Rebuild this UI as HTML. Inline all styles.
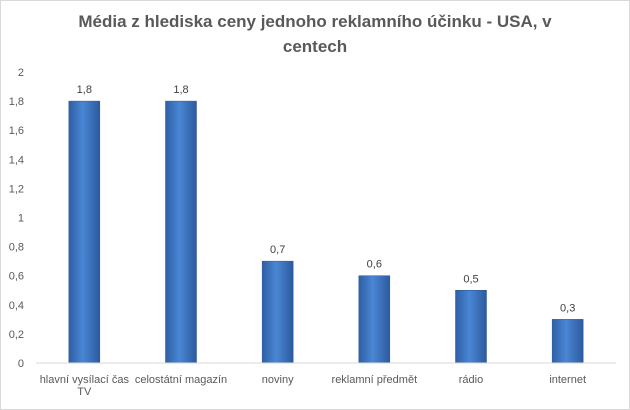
<!DOCTYPE html>
<html><head><meta charset="utf-8"><style>
body{margin:0;background:#fff}
svg{display:block;font-family:"Liberation Sans",sans-serif}
</style></head><body>
<svg width="630" height="410">
<defs>
<linearGradient id="bg" x1="0" x2="1" y1="0" y2="0">
<stop offset="0" stop-color="#2f5fa6"/><stop offset="0.45" stop-color="#4a86d4"/><stop offset="1" stop-color="#2c5a9e"/>
</linearGradient>
</defs>
<rect x="0.5" y="0.5" width="629" height="409" fill="#fff" stroke="#d9d9d9"/>
<text x="315" y="27" text-anchor="middle" font-size="17" font-weight="bold" fill="#595959">Média z hlediska ceny jednoho reklamního účinku - USA, v</text>
<text x="315" y="52" text-anchor="middle" font-size="17" font-weight="bold" fill="#595959">centech</text>
<g id="yaxis"></g><g id="bars"></g>
<line x1="36" y1="363" x2="616" y2="363" stroke="#d9d9d9"/>
</svg>
<script>
const categories=[["hlavní vysílací čas","TV"],["celostátní magazín"],["noviny"],["reklamní předmět"],["rádio"],["internet"]];
const values=[1.8,1.8,0.7,0.6,0.5,0.3];
const valueLabels=["1,8","1,8","0,7","0,6","0,5","0,3"];
const ticks=[0,0.2,0.4,0.6,0.8,1,1.2,1.4,1.6,1.8,2];
const tickLabels=["0","0,2","0,4","0,6","0,8","1","1,2","1,4","1,6","1,8","2"];
const NS="http://www.w3.org/2000/svg";
const y=v=>363-v*145.5;
const band=580/categories.length;
const x=i=>36+band*(i+0.5);
function mk(t,a,p,txt){const e=document.createElementNS(NS,t);for(const k in a)e.setAttribute(k,a[k]);if(txt!=null)e.textContent=txt;p.appendChild(e);return e;}
const ya=document.getElementById('yaxis'),bs=document.getElementById('bars');
ticks.forEach((t,i)=>{
const e=mk('text',{x:24,y:y(t)+4,'text-anchor':'end','font-size':11,fill:'#595959'},ya,tickLabels[i]);


});
values.forEach((v,i)=>{
const r=mk('rect',{x:x(i)-15.5,y:y(v),width:31,height:363-y(v),fill:'url(#bg)',stroke:'#2a5596','stroke-width':0.5},bs);


const l=mk('text',{x:x(i),y:y(v)-8,'text-anchor':'middle','font-size':11,fill:'#404040'},bs,valueLabels[i]);


categories[i].forEach((s,j)=>{
const c=mk('text',{x:x(i),y:383+j*12,'text-anchor':'middle','font-size':11,fill:'#595959'},bs,s);


});
});
</script>
</body></html>
